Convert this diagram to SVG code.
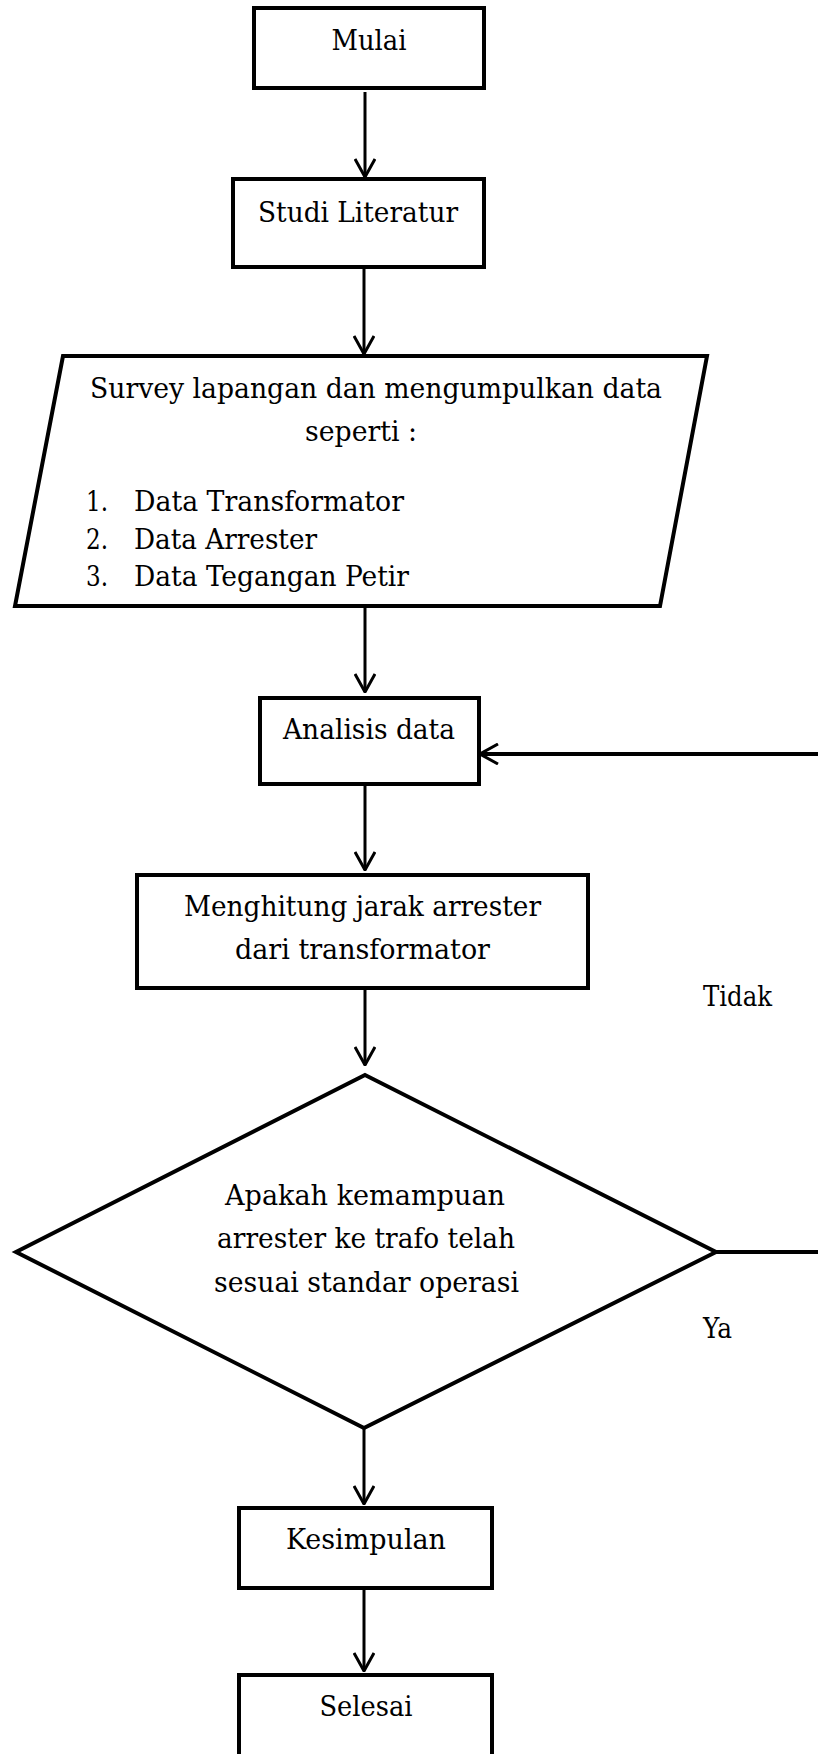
<svg xmlns="http://www.w3.org/2000/svg" width="818" height="1754" viewBox="0 0 818 1754">
<defs>
<marker id="ah" viewBox="0 0 20 22" refX="19" refY="11" markerWidth="20" markerHeight="22" markerUnits="userSpaceOnUse" orient="auto">
<path d="M1,1 L19,11 L1,21" fill="none" stroke="#000" stroke-width="3"/>
</marker>
<style>
.n{fill:#fff;stroke:#000;stroke-width:4;stroke-linejoin:miter}
.t{font-family:"DejaVu Serif Condensed","DejaVu Serif","Liberation Serif",serif;font-stretch:condensed;font-size:28.5px;fill:#000}
.c{text-anchor:middle}
.e{fill:none;stroke:#000;stroke-width:3}
</style>
</defs>
<rect width="818" height="1754" fill="#fff"/>
<g id="connectors">
<line class="e" x1="365" y1="92" x2="365" y2="177" marker-end="url(#ah)"/>
<line class="e" x1="364" y1="267" x2="364" y2="354" marker-end="url(#ah)"/>
<line class="e" x1="365" y1="606" x2="365" y2="692" marker-end="url(#ah)"/>
<line class="e" x1="365" y1="784" x2="365" y2="870" marker-end="url(#ah)"/>
<line class="e" x1="365" y1="977" x2="365" y2="1065" marker-end="url(#ah)"/>
<line class="e" x1="364" y1="1423" x2="364" y2="1504" marker-end="url(#ah)"/>
<line class="e" x1="364" y1="1588" x2="364" y2="1671" marker-end="url(#ah)"/>
<polyline class="e" style="stroke-width:4" points="716,1252 840,1252 840,754 480,754" marker-end="url(#ah)"/>
<text class="t" x="703" y="1006" textLength="69" lengthAdjust="spacingAndGlyphs">Tidak</text>
<text class="t" x="703" y="1338" textLength="29" lengthAdjust="spacingAndGlyphs">Ya</text>
</g>
<g id="mulai">
<rect class="n" x="254" y="8" width="230" height="80"/>
<text class="t c" x="369" y="50" textLength="75" lengthAdjust="spacingAndGlyphs">Mulai</text>
</g>
<g id="studi">
<rect class="n" x="233" y="179" width="251" height="88"/>
<text class="t c" x="358" y="222" textLength="200" lengthAdjust="spacingAndGlyphs">Studi Literatur</text>
</g>
<g id="survey">
<polygon class="n" points="63,356 707,356 660,606 15,606"/>
<text class="t c" x="376" y="398" textLength="572" lengthAdjust="spacingAndGlyphs">Survey lapangan dan mengumpulkan data</text>
<text class="t c" x="361" y="441" textLength="112" lengthAdjust="spacingAndGlyphs">seperti :</text>
<text class="t" x="86" y="511" textLength="22" lengthAdjust="spacingAndGlyphs">1.</text>
<text class="t" x="134" y="511" textLength="270" lengthAdjust="spacingAndGlyphs">Data Transformator</text>
<text class="t" x="86" y="549" textLength="22" lengthAdjust="spacingAndGlyphs">2.</text>
<text class="t" x="134" y="549" textLength="183" lengthAdjust="spacingAndGlyphs">Data Arrester</text>
<text class="t" x="86" y="586" textLength="22" lengthAdjust="spacingAndGlyphs">3.</text>
<text class="t" x="134" y="586" textLength="275" lengthAdjust="spacingAndGlyphs">Data Tegangan Petir</text>
</g>
<g id="analisis">
<rect class="n" x="260" y="698" width="219" height="86"/>
<text class="t c" x="369" y="739" textLength="172" lengthAdjust="spacingAndGlyphs">Analisis data</text>
</g>
<g id="menghitung">
<rect class="n" x="137" y="875" width="451" height="113"/>
<text class="t c" x="362.5" y="916" textLength="357" lengthAdjust="spacingAndGlyphs">Menghitung jarak arrester</text>
<text class="t c" x="362.5" y="959" textLength="255" lengthAdjust="spacingAndGlyphs">dari transformator</text>
</g>
<g id="keputusan">
<polygon class="n" points="365,1075 716,1252 364,1428 16,1252"/>
<text class="t c" x="365" y="1205" textLength="280" lengthAdjust="spacingAndGlyphs">Apakah kemampuan</text>
<text class="t c" x="366" y="1248" textLength="298" lengthAdjust="spacingAndGlyphs">arrester ke trafo telah</text>
<text class="t c" x="366.5" y="1292" textLength="305" lengthAdjust="spacingAndGlyphs">sesuai standar operasi</text>
</g>
<g id="kesimpulan">
<rect class="n" x="239" y="1508" width="253" height="80"/>
<text class="t c" x="366" y="1549" textLength="160" lengthAdjust="spacingAndGlyphs">Kesimpulan</text>
</g>
<g id="selesai">
<rect class="n" x="239" y="1675" width="253" height="100"/>
<text class="t c" x="366" y="1716" textLength="93" lengthAdjust="spacingAndGlyphs">Selesai</text>
</g>
</svg>
